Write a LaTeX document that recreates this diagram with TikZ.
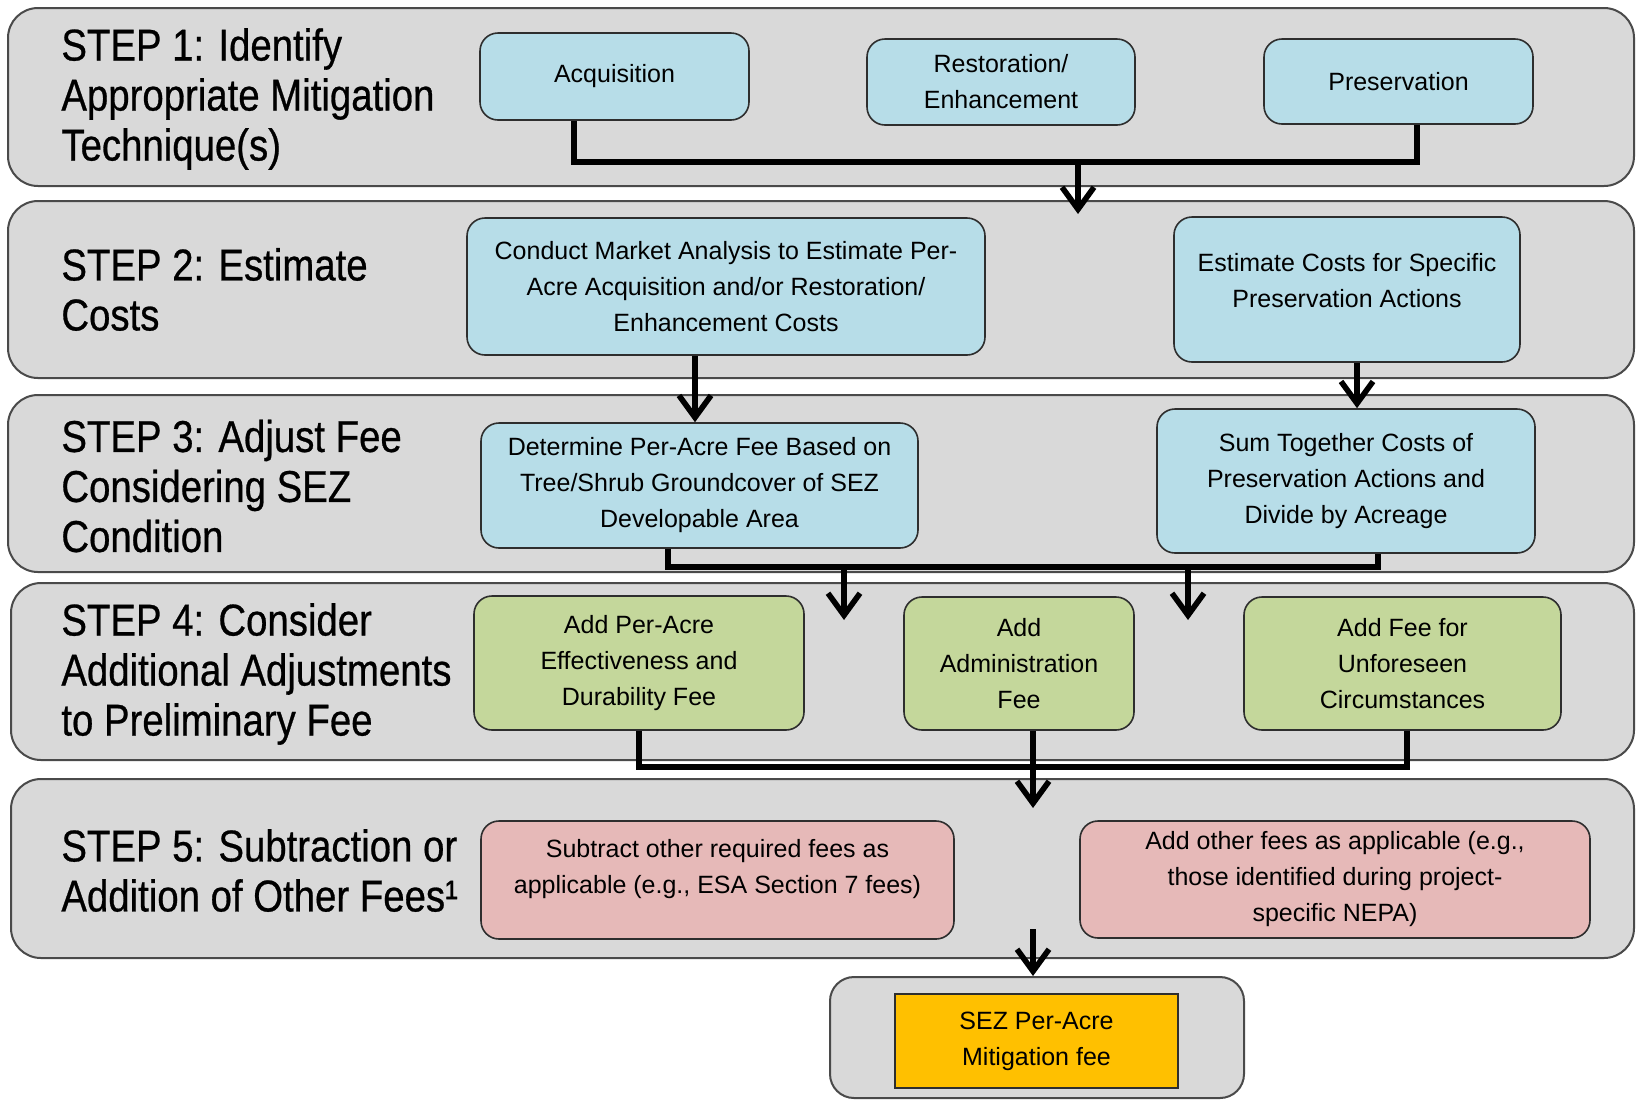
\documentclass[tikz,border=0pt]{standalone}
\usepackage{fontspec}
\setmainfont{Liberation Sans}
\newfontfamily\stepfont[FakeStretch=0.86,FakeBold=0.6]{Liberation Sans}
\usetikzlibrary{arrows.meta,calc}
\definecolor{bandgray}{HTML}{D9D9D9}
\definecolor{bandedge}{HTML}{4A4A4A}
\definecolor{boxedge}{HTML}{2E2E2E}
\definecolor{boxblue}{HTML}{B7DDE8}
\definecolor{boxgreen}{HTML}{C4D79B}
\definecolor{boxpink}{HTML}{E6B9B8}
\definecolor{boxorange}{HTML}{FFC000}
\begin{document}
\begin{tikzpicture}[x=0.5pt,y=-0.5pt,
  band/.style={draw=bandedge,fill=bandgray,line width=1pt,rounded corners=15pt,inner sep=0pt},
  boxtext/.style={align=center,font=\fontsize{12.5}{18}\selectfont,inner sep=0pt},
  box/.style={boxtext,draw=boxedge,line width=0.8pt,rounded corners=9pt},
  bluebox/.style={box,fill=boxblue},
  greenbox/.style={box,fill=boxgreen},
  pinkbox/.style={box,fill=boxpink},
  steplabel/.style={anchor=west,align=left,inner sep=0pt,
    font=\stepfont\fontsize{22.3}{25}\selectfont},
  conn/.style={line width=2.8pt},
  arr/.style={conn,-{Straight Barb[length=11pt,width=16pt]}}]
\useasboundingbox (0,0) rectangle (1637,1099);

% step bands
\node[band,minimum width=813pt,minimum height=89pt] (band1) at (821,97) {};
\node[band,minimum width=813pt,minimum height=88.5pt] (band2) at (821,289.5) {};
\node[band,minimum width=813pt,minimum height=88.5pt] (band3) at (821,483.5) {};
\node[band,minimum width=811.5pt,minimum height=88.5pt] (band4) at (822.5,671.5) {};
\node[band,minimum width=811.5pt,minimum height=89.5pt] (band5) at (822.5,868.5) {};

% step titles
\node[steplabel] (s1) at (61,99) {STEP 1: Identify\\Appropriate Mitigation\\Technique(s)};
\node[steplabel] (s2) at (61,289.5) {STEP 2: Estimate\\Costs};
\node[steplabel] (s3) at (61,486) {STEP 3: Adjust Fee\\Considering SEZ\\Condition};
\node[steplabel] (s4) at (61,674) {STEP 4: Consider\\Additional Adjustments\\to Preliminary Fee};
\node[steplabel] (s5) at (61,870.5) {STEP 5: Subtraction or\\Addition of Other Fees¹};

% step 1
\node[bluebox,minimum width=134.5pt,minimum height=43.5pt] (acq) at (614.5,76.5) {Acquisition};
\node[bluebox,minimum width=134pt,minimum height=43pt] (rest) at (1001,82) {Restoration/\\Enhancement};
\node[bluebox,minimum width=134.5pt,minimum height=42.5pt] (pres) at (1398.5,81.5) {Preservation};

% step 2
\node[bluebox,minimum width=259pt,minimum height=68.5pt] (cond) at (726,286.5)
  {Conduct Market Analysis to Estimate Per-\\Acre Acquisition and/or Restoration/\\Enhancement Costs};
\node[bluebox,minimum width=173pt,minimum height=72.5pt] (est) at (1347,289.5) {};
\node[boxtext] (estt) at ([yshift=4.5pt]est.center) {Estimate Costs for Specific\\Preservation Actions};

% step 3
\node[bluebox,minimum width=218.5pt,minimum height=62.5pt] (det) at (699.5,485.5)
  {Determine Per-Acre Fee Based on\\Tree/Shrub Groundcover of SEZ\\Developable Area};
\node[bluebox,minimum width=189pt,minimum height=72pt] (sum) at (1346,481)
  {Sum Together Costs of\\Preservation Actions and\\Divide by Acreage};

% step 4
\node[greenbox,minimum width=165pt,minimum height=67pt] (peracre) at (639,663)
  {Add Per-Acre\\Effectiveness and\\Durability Fee};
\node[greenbox,minimum width=115pt,minimum height=66.5pt] (adm) at (1019,663.5)
  {Add\\Administration\\Fee};
\node[greenbox,minimum width=158.5pt,minimum height=66.5pt] (unf) at (1402.5,663.5)
  {Add Fee for\\Unforeseen\\Circumstances};

% step 5
\node[pinkbox,minimum width=236.5pt,minimum height=59pt] (sub) at (717.5,880) {};
\node[boxtext] (subt) at ([yshift=5.5pt]sub.center)
  {Subtract other required fees as\\applicable (e.g., ESA Section 7 fees)};
\node[pinkbox,minimum width=255pt,minimum height=58.5pt] (oth) at (1335,879.5)
  {Add other fees as applicable (e.g.,\\those identified during project-\\specific NEPA)};

% result
\node[draw=bandedge,fill=bandgray,line width=1pt,rounded corners=12pt,
  minimum width=207pt,minimum height=60.5pt,inner sep=0pt] (fin) at (1037,1037.5) {};
\node[boxtext,draw=boxedge,line width=0.8pt,fill=boxorange,
  minimum width=141.5pt,minimum height=47pt] (fee) at (1036.5,1041)
  {SEZ Per-Acre\\Mitigation fee};

% connectors: step 1 to step 2
\coordinate (j1) at (1078,162);
\coordinate (t1) at (1078,214);
\coordinate (a1) at ([xshift=-20.25pt]acq.south);
\coordinate (p1) at ([xshift=9.25pt]pres.south);
\draw[conn] (a1) |- (p1 |- j1) -- (p1);
\draw[arr] (j1) -- (t1);

% step 2 to step 3
\coordinate (c1) at ([xshift=-15.5pt]cond.south);
\draw[arr] (c1) -- (c1 |- det.north);
\coordinate (e1) at ([xshift=5pt]est.south);
\draw[arr] (e1) -- (e1 |- sum.north);

% step 3 to step 4
\coordinate (d1) at ([xshift=-15.75pt]det.south);
\coordinate (q1) at ([xshift=16pt]sum.south);
\coordinate (j3) at (0,567);
\draw[conn] (d1) -- (d1 |- j3) -| (q1);
\coordinate (j3a) at (844,567);
\coordinate (t3a) at (844,620);
\coordinate (j3b) at (1188,567);
\coordinate (t3b) at (1188,620);
\draw[arr] (j3a) -- (t3a);
\draw[arr] (j3b) -- (t3b);

% step 4 to step 5
\coordinate (j4) at (0,767);
\coordinate (u1) at ([xshift=2.25pt]unf.south);
\draw[conn] (peracre.south) |- (u1 |- j4) -- (u1);
\coordinate (ad1) at ([xshift=7pt]adm.south);
\coordinate (t4) at (1033,808);
\draw[arr] (ad1) -- (t4);

% step 5 to result
\coordinate (f0) at (1033,929);
\draw[arr] (f0) -- (f0 |- fin.north);
\end{tikzpicture}
\end{document}
